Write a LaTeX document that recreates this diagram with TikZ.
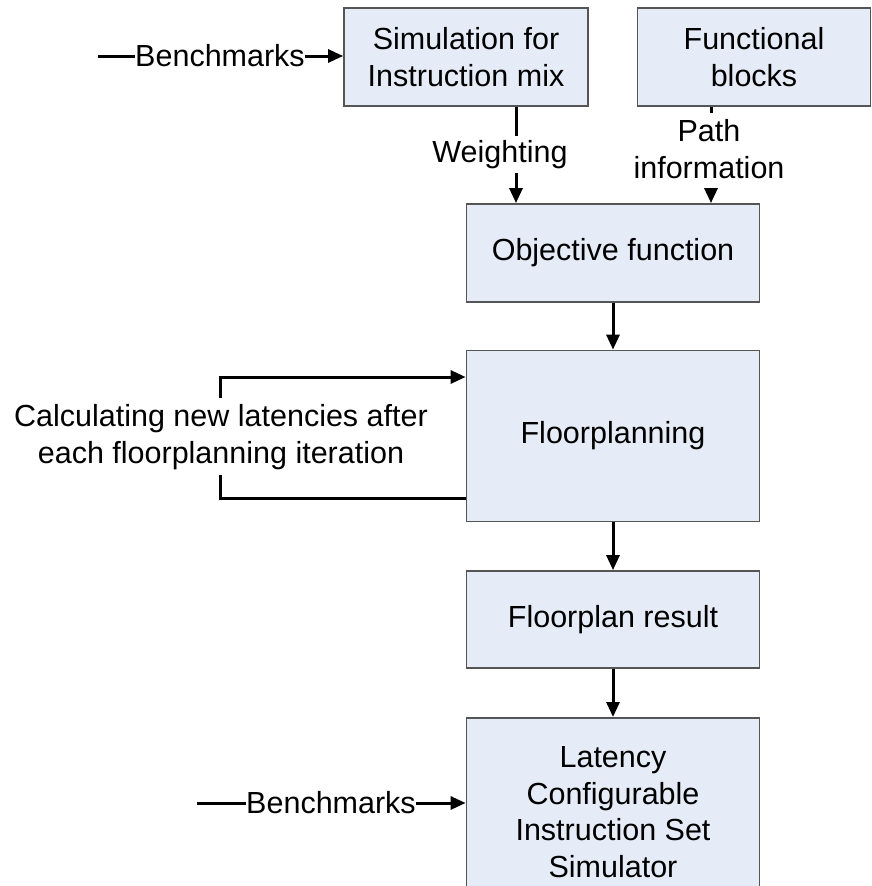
\documentclass[tikz,border=0pt]{standalone}
\usepackage{fontspec}
\setmainfont{Liberation Sans}
\usetikzlibrary{arrows.meta}
\definecolor{boxfill}{RGB}{230,236,247}
\definecolor{boxline}{RGB}{85,85,85}
\tikzset{
  blk/.style={draw=boxline, fill=boxfill, line width=1.8pt, align=center, inner sep=0pt},
  lbl/.style={align=center, inner sep=0pt},
  conn/.style={line width=3pt, black},
  arr/.style={conn, -{Triangle[length=15pt,width=13pt]}},
}
\begin{document}
\begin{tikzpicture}[x=1pt,y=-1pt, font=\fontsize{30.5}{37.5}\selectfont]
\useasboundingbox (0,0) rectangle (872,886);
\clip (0,0) rectangle (872,886);
% boxes
\node[blk, minimum width=244pt, minimum height=98pt] (sim) at (466,57) {Simulation for\\Instruction mix};
\node[blk, minimum width=233pt, minimum height=98pt] (fb) at (754,57) {Functional\\blocks};
\node[blk, minimum width=293pt, minimum height=98pt] (obj) at (613,253) {Objective function};
\node[blk, minimum width=293pt, minimum height=171pt] (fp) at (613,436) {Floorplanning};
\node[blk, minimum width=293pt, minimum height=97pt] (res) at (613,619.5) {Floorplan result};
\node[blk, minimum width=293pt, minimum height=200pt, anchor=north] (lat) at (613,717) {};
\node[lbl, font=\fontsize{30.5}{36.5}\selectfont] (lattxt) at (613,812) {Latency\\Configurable\\Instruction Set\\Simulator};
% labels
\node[lbl] (bm1) at (220,56) {Benchmarks};
\node[lbl] (bm2) at (331,803) {Benchmarks};
\node[lbl] (wt) at (500,155) {Weighting};
\node[lbl] (pi) at (709,149) {Path\\information};
\node[lbl] (calc) at (221,437) {Calculating new latencies after\\each floorplanning iteration};
% coordinates
\coordinate (b1s) at (98,56);
\coordinate (b2s) at (197,803);
\coordinate (w1) at (516,136);
\coordinate (w2) at (516,173);
\coordinate (p1) at (711,113);
\coordinate (p2) at (711,188);
\coordinate (lt) at (220,377);
\coordinate (lts) at (220,398);
\coordinate (lb) at (220,498);
\coordinate (lbs) at (220,475);
% connectors
\draw[conn] (b1s) -- (bm1.west);
\draw[arr] (bm1.east) -- (bm1.east -| sim.west);
\draw[conn] (b2s) -- (bm2.west);
\draw[arr] (bm2.east) -- (bm2.east -| lat.west);
\draw[conn] (w1 |- sim.south) -- (w1);
\draw[arr] (w2) -- (w2 |- obj.north);
\draw[conn] (p1 |- fb.south) -- (p1);
\draw[arr] (p2) -- (p2 |- obj.north);
\draw[arr] (obj.south) -- (fp.north);
\draw[arr] (fp.south) -- (res.north);
\draw[arr] (res.south) -- (lat.north);
\draw[arr, line join=miter] (lts) -- (lt) -- (lt -| fp.west);
\draw[conn, line join=miter] (lb -| fp.west) -- (lb) -- (lbs);
\end{tikzpicture}
\end{document}
